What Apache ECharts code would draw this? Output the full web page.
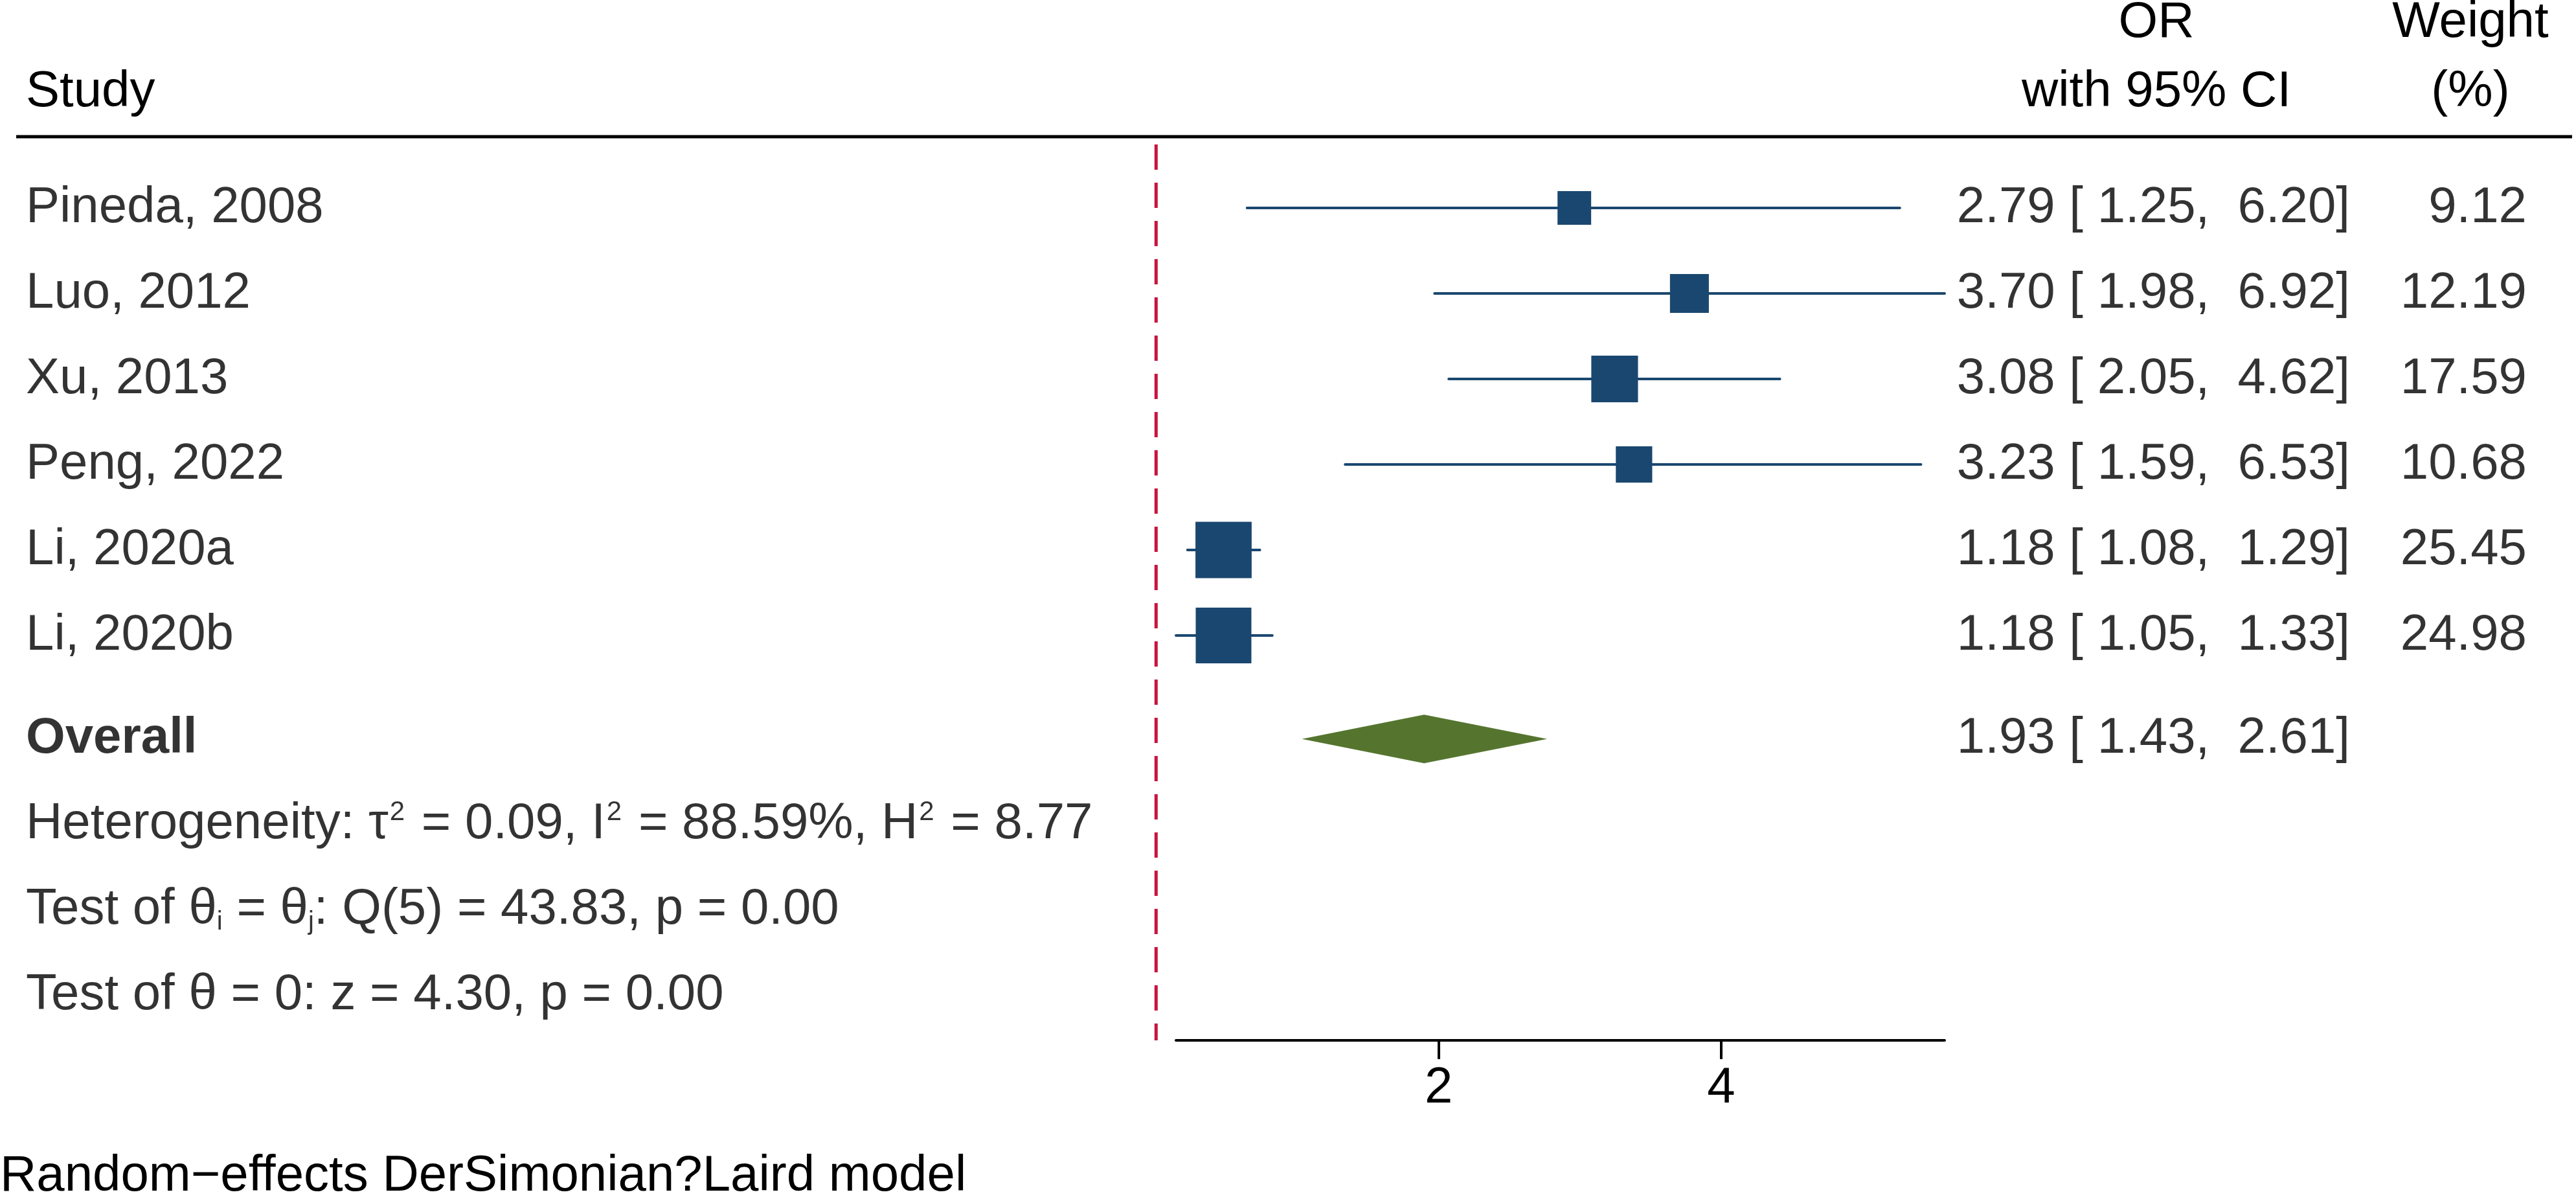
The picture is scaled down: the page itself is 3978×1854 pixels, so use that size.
<!DOCTYPE html>
<html>
<head>
<meta charset="utf-8">
<title>Forest plot</title>
<script src="https://cdn.jsdelivr.net/npm/echarts@6/dist/echarts.min.js"></script>
<style>
  html, body { margin: 0; padding: 0; background: #fff; }
  #chart { width: 3978px; height: 1854px; }
</style>
</head>
<body>
<div id="chart"></div>
<script>
// study data
var studies = ['Pineda, 2008', 'Luo, 2012', 'Xu, 2013', 'Peng, 2022', 'Li, 2020a', 'Li, 2020b'];
var orValues = [2.79, 3.70, 3.08, 3.23, 1.18, 1.18];
var ciLow = [1.25, 1.98, 2.05, 1.59, 1.08, 1.05];
var ciHigh = [6.20, 6.92, 4.62, 6.53, 1.29, 1.33];
var weights = [9.12, 12.19, 17.59, 10.68, 25.45, 24.98];

// overall (random effects)
var overall = [1.93, 1.43, 2.61]; // OR, low, high
var tau2 = '0.09', i2 = '88.59', h2 = '8.77';
var qStat = '43.83', qDf = 5, qP = '0.00';
var zStat = '4.30', zP = '0.00';

var xTicks = [2, 4];
var nullValue = 1;

// layout (pixels)
var FONT = 'Liberation Sans, Arial, Helvetica, sans-serif';
var FS = 78;
var ROW0 = 321, ROWH = 132;          // first study row centre, row pitch
var TOP = 223, BOTTOM = 1606;        // plot region
var yMin = (TOP - ROW0) / ROWH;
var yMax = (BOTTOM - ROW0) / ROWH;
var SUMMARY_ROW = studies.length + 0.21;
var NAVY = '#1a476f', GREEN = '#55752f', RED = '#c8143c';
var BOX = 17.2; // square side per sqrt(weight)

function fmt(v) { return v.toFixed(2); }
function pad(v) { return (' ' + fmt(v)).slice(-5); }
function ciText(o, l, h) { return fmt(o) + ' [' + pad(l) + ', ' + pad(h) + ']'; }

var chart = echarts.init(document.getElementById('chart'), null, { renderer: 'canvas' });

var studyData = studies.map(function (s, i) {
  return [i, orValues[i], ciLow[i], ciHigh[i], weights[i]];
});

function renderStudy(params, api) {
  var row = api.value(0);
  var c = api.coord([api.value(1), row]);
  var l = api.coord([api.value(2), row]);
  var h = api.coord([api.value(3), row]);
  var side = BOX * Math.sqrt(api.value(4));
  return {
    type: 'group',
    children: [
      { type: 'line', shape: { x1: l[0], y1: l[1], x2: h[0], y2: h[1] },
        style: { stroke: NAVY, lineWidth: 4, lineCap: 'round' } },
      { type: 'rect', shape: { x: c[0] - side / 2, y: c[1] - side / 2, width: side, height: side },
        style: { fill: NAVY } }
    ]
  };
}

function renderDiamond(params, api) {
  var row = api.value(0);
  var c = api.coord([api.value(1), row]);
  var l = api.coord([api.value(2), row]);
  var h = api.coord([api.value(3), row]);
  var hh = 37.5;
  return {
    type: 'polygon',
    shape: { points: [[l[0], l[1]], [c[0], c[1] - hh], [h[0], h[1]], [c[0], c[1] + hh]] },
    style: { fill: GREEN }
  };
}

// vertical null line (OR = 1), spans the whole plot height
function renderNull(params, api) {
  var a = api.coord([api.value(0), yMin]);
  var b = api.coord([api.value(0), yMax]);
  return {
    type: 'line',
    shape: { x1: a[0], y1: a[1], x2: b[0], y2: b[1] },
    style: { stroke: RED, lineWidth: 5, lineDash: [39, 20] }
  };
}

// text columns
var textLabel = { show: true, position: 'inside', verticalAlign: 'middle', color: '#000',
  fontFamily: FONT, fontSize: FS, lineHeight: FS };

var nameData = studies.map(function (s, i) { return { value: [40, i], name: s }; });
var orData = studies.map(function (s, i) {
  return { value: [3629, i], name: ciText(orValues[i], ciLow[i], ciHigh[i]) };
});
orData.push({ value: [3629, SUMMARY_ROW], name: ciText(overall[0], overall[1], overall[2]) });
var wData = weights.map(function (w, i) { return { value: [3902, i], name: fmt(w) }; });

var statLines = [
  'Heterogeneity: {g|\u03c4}{sup|2} = ' + tau2 + ', I{sup|2} = ' + i2 + '%, H{sup|2} = ' + h2,
  'Test of \u03b8{sub|i} = \u03b8{sub|j}: Q(' + qDf + ') = ' + qStat + ', p = ' + qP,
  'Test of \u03b8 = 0: z = ' + zStat + ', p = ' + zP
];
var statData = statLines.map(function (t, i) { return { value: [40, SUMMARY_ROW + 1 + i], name: t }; });

var rich = {
  g: { fontFamily: FONT, fontSize: FS, lineHeight: FS, color: '#000' },
  sup: { fontFamily: FONT, fontSize: 42, lineHeight: 22, verticalAlign: 'top', color: '#000', padding: [0, 4, 0, 2] },
  sub: { fontFamily: FONT, fontSize: 40, lineHeight: 44, verticalAlign: 'bottom', color: '#000' }
};

function textSeries(data, align, extra) {
  return {
    type: 'scatter', xAxisIndex: 1, yAxisIndex: 1, data: data, clip: false,
    symbolSize: 1, itemStyle: { color: 'rgba(0,0,0,0)' }, silent: true,
    label: Object.assign({}, textLabel, { align: align, formatter: function (p) { return p.name; } }, extra || {})
  };
}

var option = {
  backgroundColor: '#fff',
  animation: false,
  grid: [
    { left: 1816, width: 1187, top: TOP, height: BOTTOM - TOP },
    { left: 0, width: 3978, top: TOP, height: BOTTOM - TOP }
  ],
  xAxis: [
    {
      gridIndex: 0, type: 'log', logBase: 10, min: 1.05, max: 6.92, position: 'bottom',
      axisLine: { show: true, onZero: false, lineStyle: { color: '#000', width: 4 } },
      axisTick: { show: true, length: 29, customValues: xTicks, lineStyle: { color: '#000', width: 4 } },
      axisLabel: { show: true, customValues: xTicks, margin: 35, color: '#000',
        fontFamily: FONT, fontSize: FS, lineHeight: FS },
      minorTick: { show: false }, splitLine: { show: false }
    },
    { gridIndex: 1, type: 'value', min: 0, max: 3978, show: false }
  ],
  yAxis: [
    { gridIndex: 0, type: 'value', min: yMin, max: yMax, inverse: true, show: false },
    { gridIndex: 1, type: 'value', min: yMin, max: yMax, inverse: true, show: false }
  ],
  graphic: [
    { type: 'line', shape: { x1: 25, y1: 211, x2: 3972, y2: 211 }, style: { stroke: '#000', lineWidth: 5 } },
    { type: 'text', x: 40, y: 142, style: { text: 'Study', font: FS + 'px ' + FONT, fill: '#000', align: 'left', verticalAlign: 'middle' } },
    { type: 'text', x: 3330, y: 35, style: { text: 'OR', font: FS + 'px ' + FONT, fill: '#000', align: 'center', verticalAlign: 'middle' } },
    { type: 'text', x: 3330, y: 142, style: { text: 'with 95% CI', font: FS + 'px ' + FONT, fill: '#000', align: 'center', verticalAlign: 'middle' } },
    { type: 'text', x: 3815, y: 35, style: { text: 'Weight', font: FS + 'px ' + FONT, fill: '#000', align: 'center', verticalAlign: 'middle' } },
    { type: 'text', x: 3815, y: 142, style: { text: '(%)', font: FS + 'px ' + FONT, fill: '#000', align: 'center', verticalAlign: 'middle' } },
    { type: 'text', x: 0, y: 1816, style: { text: 'Random\u2212effects DerSimonian?Laird model', font: FS + 'px ' + FONT, fill: '#000', align: 'left', verticalAlign: 'middle' } }
  ],
  series: [
    {
      type: 'custom', xAxisIndex: 0, yAxisIndex: 0, renderItem: renderNull,
      encode: { x: 0 }, data: [[nullValue]], silent: true, z: 1
    },
    {
      type: 'custom', xAxisIndex: 0, yAxisIndex: 0, renderItem: renderStudy,
      encode: { x: [1, 2, 3], y: 0 }, data: studyData, silent: true, z: 2
    },
    {
      type: 'custom', xAxisIndex: 0, yAxisIndex: 0, renderItem: renderDiamond,
      encode: { x: [1, 2, 3], y: 0 }, data: [[SUMMARY_ROW, overall[0], overall[1], overall[2]]], silent: true, z: 2
    },
    textSeries(nameData, 'left'),
    textSeries([{ value: [40, SUMMARY_ROW], name: 'Overall' }], 'left', { fontWeight: 'bold' }),
    textSeries(statData, 'left', { rich: rich }),
    textSeries(orData, 'right'),
    textSeries(wData, 'right')
  ]
};

chart.setOption(option);
</script>
</body>
</html>
